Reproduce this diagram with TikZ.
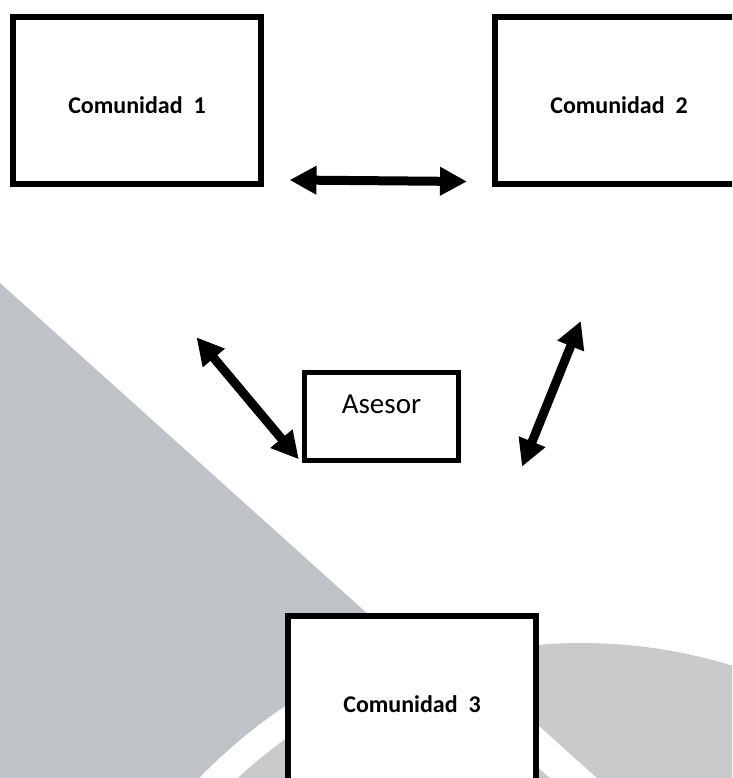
\documentclass[tikz,border=0pt]{standalone}
\usepackage{fontspec}
\setmainfont{Carlito}
\usetikzlibrary{arrows.meta}
\definecolor{trigrey}{HTML}{BFC3C7}
\definecolor{circgrey}{HTML}{CACACC}
\begin{document}
\begin{tikzpicture}[x=1pt,y=-1pt,
  box/.style={draw=black, line width=6pt, fill=white, inner sep=0pt,
              minimum width=248pt, minimum height=167pt},
  lbl/.style={font=\bfseries\fontsize{24}{28}\selectfont, inner sep=0pt},
  asl/.style={font=\fontsize{29}{34}\selectfont, inner sep=0pt},
  dbl/.style={line width=9pt,
              {Triangle[length=27pt,width=27pt]}-{Triangle[length=27pt,width=27pt]}},
]
\useasboundingbox (0,0) rectangle (732,778);
\begin{scope}
\clip (0,0) rectangle (732,778);
% background shapes
\fill[trigrey] (0,283) -- (600,823) -- (0,823) -- cycle;
\fill[white] (582,1149) circle (533pt);
\fill[circgrey] (582,1149) circle (506pt);
\begin{scope}
  \clip (582,1149) circle (506pt);
  \fill[white] (0,283) -- (700,913) -- (700,871) -- (0,241) -- cycle;
\end{scope}
% connectors
\coordinate (h1) at (289.5,180);
\coordinate (h2) at (467,181.5);
\coordinate (l1) at (196.5,337.3);
\coordinate (l2) at (298.8,459.3);
\coordinate (r1) at (580.8,321);
\coordinate (r2) at (522,466.7);
\draw[dbl] (h1) -- (h2);
\draw[dbl] (l1) -- (l2);
\draw[dbl] (r1) -- (r2);
% boxes
\node[box, label={[lbl, yshift=-5pt]center:Comunidad\ \ 1}] (c1) at (137,100.2) {};
\node[box, label={[lbl, yshift=-5pt]center:Comunidad\ \ 2}] (c2) at (619,100.2) {};
\node[box, line width=5pt, minimum width=154pt, minimum height=87.5pt,
      label={[asl, yshift=12pt]center:Asesor}] (as) at (381.5,416.3) {};
\node[box, line width=5.5pt, minimum height=176pt,
      label={[lbl]center:Comunidad\ \ 3}] (c3) at (412,704) {};
\end{scope}
\end{tikzpicture}
\end{document}
